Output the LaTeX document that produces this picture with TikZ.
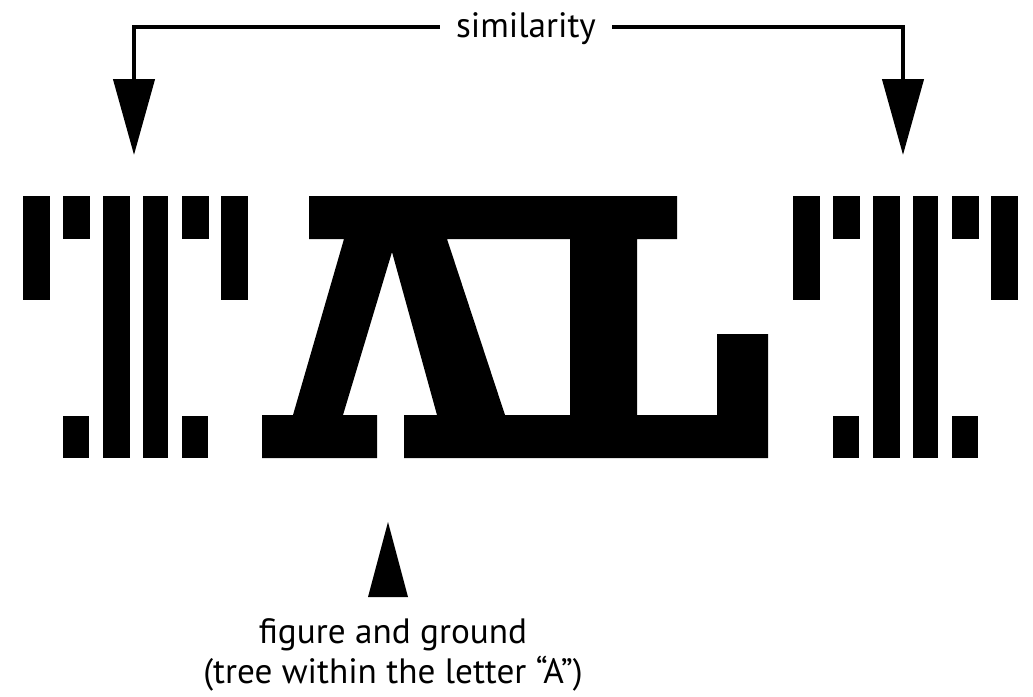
\documentclass[tikz,border=0pt]{standalone}
\usepackage{fontspec}
\setmainfont{PT Sans}
\usetikzlibrary{arrows.meta}
\begin{document}
\begin{tikzpicture}
    [x=0.5pt,y=-0.5pt,
     conn/.style={line width=2.2pt,-{Triangle[length=38pt,width=20.5pt]}},
     txt/.style={font=\fontsize{17.6}{20}\selectfont,inner sep=0pt}]
    \useasboundingbox (0,0) rectangle (1033,696);
    %similarity label and arrows
    \node[txt,inner xsep=8pt,text height=12pt,text depth=2pt] (sim) at (526,27) {similarity};
    \coordinate (lefttip) at (134,155);
    \coordinate (righttip) at (903,155);
    \draw[conn] (sim.west) -| (lefttip);
    \draw[conn] (sim.east) -| (righttip);
    %striped T, left and right
    \foreach \dx in {0,770}{
    \fill (23+\dx,196) rectangle (50+\dx,300);
    \fill (63+\dx,196) rectangle (90+\dx,239);
    \fill (103+\dx,196) rectangle (130+\dx,458);
    \fill (143+\dx,196) rectangle (168+\dx,458);
    \fill (182+\dx,196) rectangle (209+\dx,239);
    \fill (221+\dx,196) rectangle (248+\dx,300);
    \fill (63+\dx,416) rectangle (89+\dx,458);
    \fill (182+\dx,416) rectangle (208+\dx,458);
    }
    %A and L with the tree
    \fill[even odd rule] (309,196)--(677,196)--(677,239)--(637,239)--(637,415)
    --(717,415)--(717,334)--(768,334)--(768,458)--(404,458)--(404,415)
    --(437,415)--(392,252)--(343,415)--(377,415)--(377,458)--(262,458)
    --(262,415)--(293,415)--(344,239)--(309,239)--cycle
    (447,239)--(570,239)--(570,415)--(505,415)--cycle;
    %marker and caption
    \fill (388,522)--(408,597)--(368,597)--cycle;
    \node[txt,anchor=base,align=center] (fg) at (393,683) {figure and ground\\(tree within the letter “A”)};
\end{tikzpicture}
\end{document}
